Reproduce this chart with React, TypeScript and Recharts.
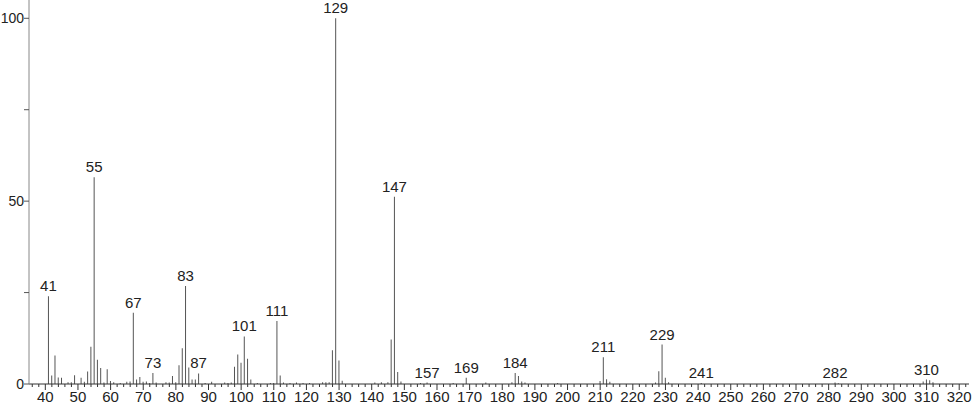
import React from "react";
import { ComposedChart, Bar, XAxis, YAxis, LabelList } from "recharts";

const mzValues = [
  41, 42, 43, 44, 45, 47, 48, 49, 51, 52, 53, 54, 55, 56, 57, 58, 59, 60, 61, 63, 65, 66, 67, 68, 69, 70,
  71, 72, 73, 74, 77, 78, 79, 80, 81, 82, 83, 84, 85, 86, 87, 89, 91, 95, 96, 97, 98, 99, 100, 101, 102,
  103, 105, 109, 110, 111, 112, 113, 115, 117, 119, 121, 125, 126, 127, 128, 129, 130, 131, 141, 143, 145,
  146, 147, 148, 149, 155, 157, 165, 169, 175, 183, 184, 185, 186, 187, 197, 210, 211, 212, 213, 227, 228,
  229, 230, 231, 241, 282, 283, 309, 310, 311, 312,
];
const intensities = [
  24, 2.3, 7.8, 1.8, 1.7, 0.5, 0.5, 2.4, 1.7, 0.6, 3.4, 10.2, 56.5, 6.6, 4.4, 0.4, 4.0, 0.8, 0.5, 0.3, 0.6,
  0.7, 19.5, 1.2, 1.9, 0.6, 0.7, 0.3, 3.0, 0.4, 0.5, 0.4, 2.2, 0.5, 5.1, 9.8, 26.8, 4.5, 1.2, 1.2, 2.9, 0.3,
  0.6, 0.4, 0.3, 0.4, 4.7, 8.1, 5.8, 13.0, 6.9, 1.2, 0.3, 0.3, 0.3, 17.2, 2.3, 0.4, 0.3, 0.4, 0.3, 0.3, 0.5,
  0.5, 0.5, 9.2, 100, 6.4, 0.9, 0.4, 0.5, 0.5, 12.2, 51.2, 3.3, 0.7, 0.3, 0.4, 0.3, 1.7, 0.4, 0.5, 3.0, 2.2,
  0.7, 0.4, 0.3, 0.8, 7.3, 1.3, 0.6, 0.4, 3.5, 10.8, 1.7, 0.5, 0.3, 0.4, 0.2, 0.7, 1.2, 1.0, 0.5,
];
const labelledPeaks = [41, 55, 67, 73, 83, 87, 101, 111, 129, 147, 157, 169, 184, 211, 229, 241, 282, 310];
const yTicks = [0, 25, 50, 75, 100];
const yLabelTicks = [0, 50, 100];
const xTicks: number[] = [];
for (let v = 36; v <= 322; v += 2) xTicks.push(v);

const data = mzValues.map((mz, i) => ({
  mz,
  intensity: intensities[i],
  label: labelledPeaks.includes(mz) ? String(mz) : "",
}));

const FONT = "'Liberation Sans Narrow', 'Liberation Sans', sans-serif";

const XTick = (props: any) => {
  const { x, y, payload } = props;
  const v = payload.value as number;
  const major = v % 10 === 0;
  return (
    <g>
      <line x1={x} x2={x} y1={y} y2={y + (major ? 6 : 3)} stroke="#333" strokeWidth={1} />
      {major && (
        <text x={x} y={y + 18} textAnchor="middle" fontFamily={FONT} fontSize={15} fill="#222">
          {v}
        </text>
      )}
    </g>
  );
};

const YTick = (props: any) => {
  const { x, y, payload } = props;
  const v = payload.value as number;
  const lab = yLabelTicks.includes(v);
  return (
    <g>
      <line x1={x - 5} x2={x} y1={y} y2={y} stroke="#555" strokeWidth={1} />
      {lab && (
        <text x={x - 5} y={y + 5} textAnchor="end" fontFamily={FONT} fontSize={14} fill="#222">
          {v}
        </text>
      )}
    </g>
  );
};

const PeakLabel = (props: any) => {
  const { x, y, width, value } = props;
  if (!value) return null;
  return (
    <text
      x={x + width / 2}
      y={y - 5}
      textAnchor="middle"
      fontFamily={FONT}
      fontSize={15}
      fill="#222"
    >
      {value}
    </text>
  );
};

export default function App() {
  return (
    <div style={{ position: "absolute", left: 0, top: 0, background: "#fff" }}>
      <ComposedChart
        width={974}
        height={406}
        data={data}
        margin={{ top: 0, right: 5, bottom: 0, left: 0 }}
      >
        <XAxis
          dataKey="mz"
          type="number"
          domain={[35, 323]}
          ticks={xTicks}
          interval={0}
          tickSize={0}
          tickMargin={0}
          tickLine={false}
          tick={<XTick />}
          axisLine={{ stroke: "#333" }}
          height={22}
          allowDataOverflow
        />
        <YAxis
          type="number"
          domain={[0, 105]}
          ticks={yTicks}
          interval={0}
          tickSize={0}
          tickMargin={0}
          tickLine={false}
          tick={<YTick />}
          axisLine={{ stroke: "#888" }}
          width={29}
          allowDataOverflow
        />
        <Bar dataKey="intensity" fill="#555" barSize={1} isAnimationActive={false}>
          <LabelList dataKey="label" content={<PeakLabel />} />
        </Bar>
      </ComposedChart>
    </div>
  );
}
